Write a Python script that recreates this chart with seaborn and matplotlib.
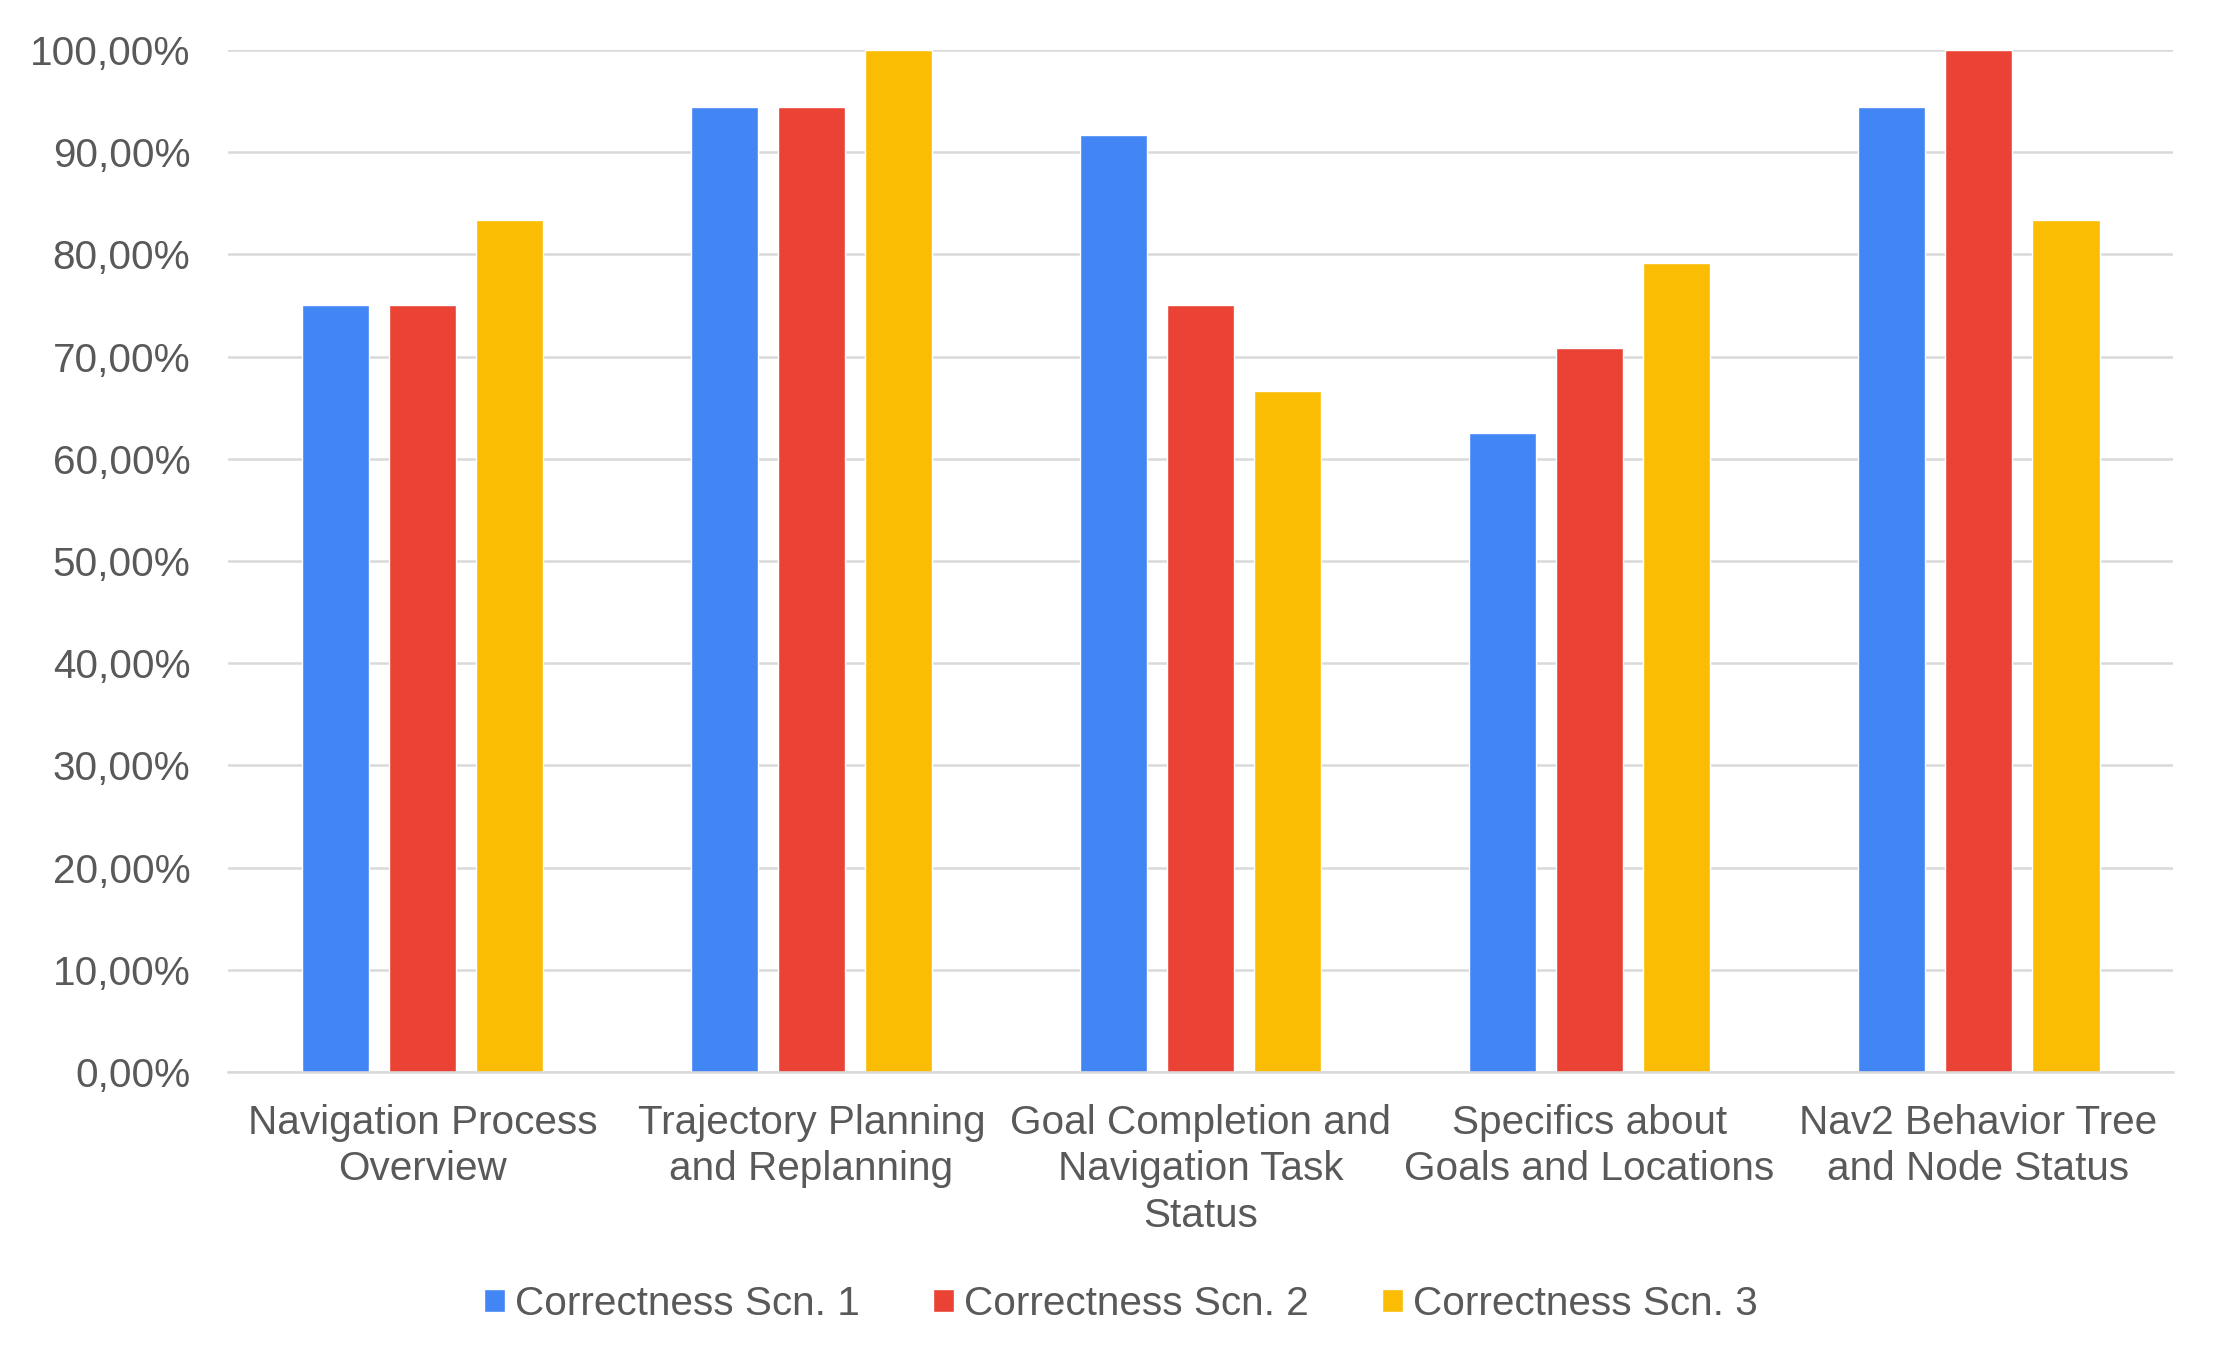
import matplotlib
matplotlib.use("Agg")
import matplotlib.pyplot as plt
import seaborn as sns
import pandas as pd
from matplotlib.ticker import FuncFormatter, MultipleLocator

categories = [
    "Navigation Process\nOverview",
    "Trajectory Planning\nand Replanning",
    "Goal Completion and\nNavigation Task\nStatus",
    "Specifics about\nGoals and Locations",
    "Nav2 Behavior Tree\nand Node Status",
]
series_names = ["Correctness Scn. 1", "Correctness Scn. 2", "Correctness Scn. 3"]
scn1 = [75.00, 94.44, 91.67, 62.50, 94.44]
scn2 = [75.00, 94.44, 75.00, 70.83, 100.00]
scn3 = [83.33, 100.00, 66.67, 79.17, 83.33]
colors = ["#4285F4", "#EA4335", "#FBBC04"]

rows = []
for name, vals in zip(series_names, [scn1, scn2, scn3]):
    for c, v in zip(categories, vals):
        rows.append({"category": c, "series": name, "value": v})
df = pd.DataFrame(rows)

sns.set_theme(style="white")
plt.rcParams["font.family"] = ["Liberation Sans", "DejaVu Sans"]
TEXT = "#595959"
FS = 29.2

fig = plt.figure(figsize=(22.24, 13.68), dpi=100)
ax = fig.add_axes([0.1025, 0.2164, 0.8746, 0.7471])

sns.barplot(data=df, x="category", y="value", hue="series", palette=colors,
            width=0.671, gap=0.22, saturation=1, ax=ax, legend=True,
            order=categories, hue_order=series_names)

ax.set_ylim(0, 100)
ax.set_xlim(-0.5, len(categories) - 0.5)
ax.yaxis.set_major_locator(MultipleLocator(10))
ax.yaxis.set_major_formatter(FuncFormatter(lambda v, p: f"{v:.2f}".replace(".", ",") + "%"))
ax.grid(axis="y", color="#d9d9d9", linewidth=1.8)
ax.set_axisbelow(True)
for s in ["top", "right", "left"]:
    ax.spines[s].set_visible(False)
ax.spines["bottom"].set_color("#d9d9d9")
ax.spines["bottom"].set_linewidth(1.8)
ax.set_xlabel("")
ax.set_ylabel("")
ax.tick_params(axis="y", length=0, pad=27, labelsize=FS, labelcolor=TEXT)
ax.tick_params(axis="x", length=0, pad=23, labelsize=FS, labelcolor=TEXT)
for lbl in ax.get_xticklabels():
    lbl.set_linespacing(1.28)
    lbl.set_verticalalignment("top")

handles, labels = ax.get_legend_handles_labels()
ax.get_legend().remove()
fig.legend(handles, labels, loc="center", bbox_to_anchor=(0.504, 0.0468), ncol=3,
           frameon=False, fontsize=FS, labelcolor=TEXT, handlelength=0.52,
           handleheight=0.52, handletextpad=0.25, columnspacing=1.8)

fig.savefig("out.png", dpi=100, facecolor="white")
